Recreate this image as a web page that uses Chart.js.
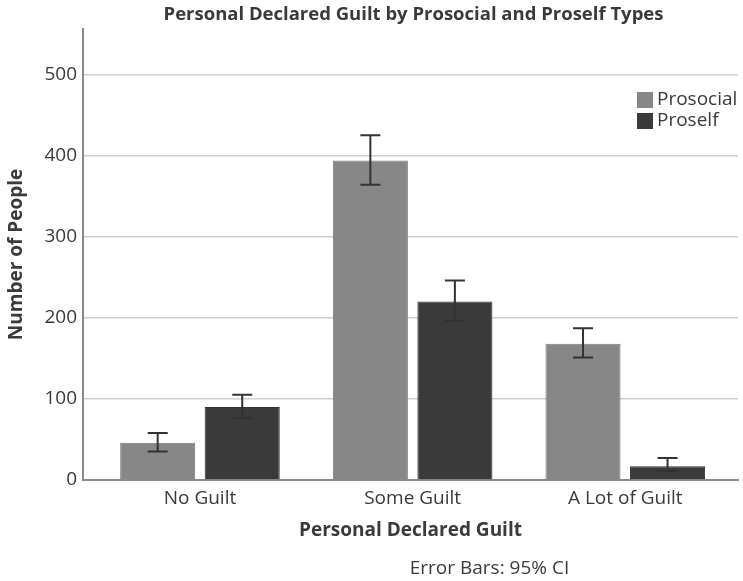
<!DOCTYPE html>
<html>
<head>
<meta charset="utf-8">
<title>Personal Declared Guilt by Prosocial and Proself Types</title>
<script src="https://cdn.jsdelivr.net/npm/chart.js@4.4.1/dist/chart.umd.min.js"></script>
<style>
  html, body { margin: 0; padding: 0; background: #fff; }
  canvas { display: block; }
</style>
</head>
<body>
<canvas id="guiltChart" width="743" height="581"></canvas>
<script>
// categories
const categories = ['No Guilt', 'Some Guilt', 'A Lot of Guilt'];

// bar heights (number of people)
const prosocial = [46, 394, 168];
const proself = [90, 220, 17];

// 95% CI ends
const prosocialLow = [35, 364, 151];
const prosocialHigh = [58, 425, 187];
const proselfLow = [76, 196, 11];
const proselfHigh = [105, 246, 27];

// y ticks shown
const yTicks = [0, 100, 200, 300, 400, 500];

const FONT = "'Open Sans', 'DejaVu Sans', sans-serif";
const TEXT = '#3a3a3a';

// bars sit on a numeric x axis (category index), so the groups can keep
// the spacing of the original while the axis line runs the full width
const toPoints = arr => arr.map((v, i) => ({ x: i, y: v }));

// error bars on top of each bar
const errorBars = {
    id: 'errorBars',
    afterDatasetsDraw(chart) {
        const ctx = chart.ctx;
        const y = chart.scales.y;
        ctx.save();
        ctx.strokeStyle = '#333';
        ctx.lineWidth = 2;
        chart.data.datasets.forEach((ds, i) => {
            const meta = chart.getDatasetMeta(i);
            meta.data.forEach((bar, j) => {
                const top = y.getPixelForValue(ds.errHigh[j]);
                const bot = y.getPixelForValue(ds.errLow[j]);
                ctx.beginPath();
                ctx.moveTo(bar.x, top);
                ctx.lineTo(bar.x, bot);
                ctx.moveTo(bar.x - 10, top);
                ctx.lineTo(bar.x + 10, top);
                ctx.moveTo(bar.x - 10, bot);
                ctx.lineTo(bar.x + 10, bot);
                ctx.stroke();
            });
        });
        ctx.restore();
    }
};

// title over the plot, legend inside it, footnote below
const extras = {
    id: 'extras',
    afterDraw(chart) {
        const ctx = chart.ctx;
        const area = chart.chartArea;
        const mid = (area.left + area.right) / 2;
        ctx.save();
        ctx.textBaseline = 'middle';
        ctx.fillStyle = TEXT;
        ctx.textAlign = 'center';
        ctx.font = 'bold 18.5px ' + FONT;
        ctx.fillText('Personal Declared Guilt by Prosocial and Proself Types', mid + 3, 15);

        ctx.font = '19px ' + FONT;
        ctx.textAlign = 'left';
        chart.data.datasets.forEach((ds, i) => {
            const lx = area.right - 101;
            const ly = area.top + 63 + i * 21;
            ctx.fillStyle = ds.backgroundColor;
            ctx.fillRect(lx, ly, 16, 16);
            ctx.fillStyle = TEXT;
            ctx.fillText(ds.label, lx + 20, ly + 8);
        });
        ctx.textAlign = 'center';
        ctx.fillText('Error Bars: 95% CI', mid + 79, 569);
        ctx.restore();
    }
};

new Chart(document.getElementById('guiltChart'), {
    type: 'bar',
    data: {
        datasets: [{
            label: 'Prosocial',
            data: toPoints(prosocial),
            errLow: prosocialLow,
            errHigh: prosocialHigh,
            backgroundColor: '#878787',
            borderColor: '#7a7a7a',
            borderWidth: 1
        }, {
            label: 'Proself',
            data: toPoints(proself),
            errLow: proselfLow,
            errHigh: proselfHigh,
            backgroundColor: '#3b3a3a',
            borderColor: '#333',
            borderWidth: 1
        }]
    },
    options: {
        responsive: false,
        animation: false,
        categoryPercentage: 0.795,
        barPercentage: 0.888,
        layout: { padding: { left: 0, right: 5, top: 29, bottom: 0 } },
        plugins: {
            legend: { display: false },
            tooltip: { enabled: false },
            title: { display: false }
        },
        scales: {
            x: {
                type: 'linear',
                min: -0.55,
                max: 2.53,
                offset: false,
                grid: { display: false, drawTicks: false, offset: false },
                border: { color: '#8a8a8a', width: 2 },
                ticks: {
                    color: TEXT,
                    font: { family: FONT, size: 19 },
                    padding: 7.6,
                    callback: v => categories[v]
                },
                afterBuildTicks(scale) {
                    scale.ticks = categories.map((c, i) => ({ value: i }));
                },
                title: {
                    display: true,
                    text: 'Personal Declared Guilt',
                    color: TEXT,
                    font: { family: FONT, size: 19, weight: 'bold' },
                    padding: { top: 0, bottom: 38.6 }
                },
                afterFit(scale) { scale.height = 101; }
            },
            y: {
                min: 0,
                max: 556,
                grid: { color: '#cfcfcf', lineWidth: 1.5, drawTicks: false },
                border: { color: '#8a8a8a', width: 2 },
                ticks: { color: TEXT, font: { family: FONT, size: 19 }, padding: 6 },
                afterBuildTicks(scale) {
                    scale.ticks = yTicks.map(v => ({ value: v }));
                },
                title: {
                    display: true,
                    text: 'Number of People',
                    color: TEXT,
                    font: { family: FONT, size: 19, weight: 'bold' },
                    padding: { top: 5, bottom: 0 }
                },
                afterFit(scale) { scale.width = 83; }
            }
        }
    },
    plugins: [errorBars, extras]
});
</script>
</body>
</html>
